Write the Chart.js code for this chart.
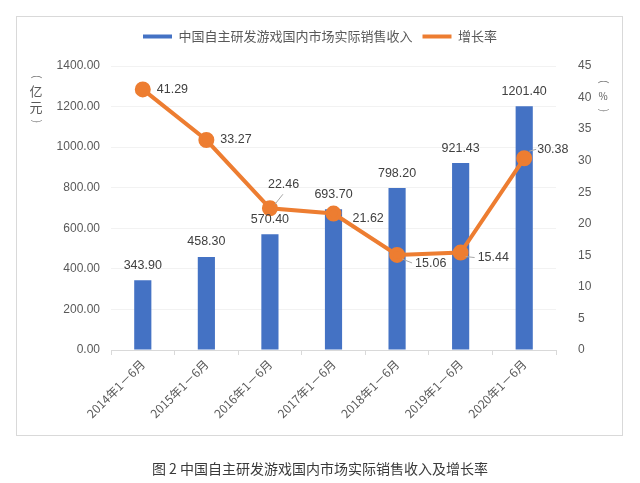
<!DOCTYPE html>
<html>
<head>
<meta charset="utf-8">
<script src="https://cdn.jsdelivr.net/npm/chart.js@4.4.1/dist/chart.umd.min.js"></script>
<style>
  body { margin: 0; background: #fff; font-family: "Noto Sans CJK SC", sans-serif; }
  #wrap { position: relative; width: 640px; height: 483px; overflow: hidden; }
  #frame { position: absolute; left: 16px; top: 16px; width: 607px; height: 420px; border: 1px solid #d9d9d9; box-sizing: border-box; }
  canvas { position: absolute; left: 0; top: 0; }
  .unit { position: absolute; display: flex; flex-direction: column; align-items: center; font-size: 13px; color: #595959; line-height: 16px; width: 16px; }
  .unit .p { display: inline-block; transform: rotate(90deg); font-family: "DejaVu Sans", sans-serif; font-weight: 300; line-height: 12px; height: 12px; }
  #unitL { left: 28px; top: 71px; }
  #unitR { left: 595px; top: 76px; font-size: 10px; }
  #unitR .p { font-size: 13px; }
  #caption { position: absolute; left: 0; width: 640px; top: 458px; text-align: center; font-size: 14px; color: #3a3a3a; }
</style>
</head>
<body>
<div id="wrap">
  <div id="frame"></div>
  <canvas id="myChart" width="640" height="483"></canvas>
  <div class="unit" id="unitL"><span class="p">(</span><span>亿</span><span>元</span><span class="p">)</span></div>
  <div class="unit" id="unitR"><span class="p">(</span><span>%</span><span class="p">)</span></div>
  <div id="caption">图 2 中国自主研发游戏国内市场实际销售收入及增长率</div>
</div>
<script>
// data
const categories = ['2014年1－6月', '2015年1－6月', '2016年1－6月', '2017年1－6月', '2018年1－6月', '2019年1－6月', '2020年1－6月'];
const revenue = [343.90, 458.30, 570.40, 693.70, 798.20, 921.43, 1201.40];
const growth = [41.29, 33.27, 22.46, 21.62, 15.06, 15.44, 30.38];
const revenueName = '中国自主研发游戏国内市场实际销售收入';
const growthName = '增长率';

const blue = '#4472C4';
const orange = '#ED7D31';
const grey = '#595959';

// label offsets for the rate line: [dx, dy, leader]
const rateLabelPos = [
    [14, 0, null],
    [14, 0, null],
    [-2, -24, [5, -4, 13, -14]],
    [19, 5, null],
    [18, 9, [5, 4, 15, 8]],
    [17, 5, [5, 4, 14, 5]],
    [13, -9, [5, -7, 12, -9]]
];

const valueLabels = {
    id: 'valueLabels',
    afterDatasetsDraw(chart) {
        const ctx = chart.ctx;
        ctx.save();
        ctx.font = '12.5px "Liberation Sans", Arial, sans-serif';
        ctx.fillStyle = '#404040';
        ctx.textBaseline = 'middle';

        ctx.textAlign = 'center';
        chart.getDatasetMeta(0).data.forEach((el, i) => {
            ctx.fillText(revenue[i].toFixed(2), el.x, el.y - 15);
        });

        ctx.textAlign = 'left';
        ctx.strokeStyle = '#a6a6a6';
        ctx.lineWidth = 1;
        chart.getDatasetMeta(1).data.forEach((el, i) => {
            const p = rateLabelPos[i];
            if (p[2]) {
                ctx.beginPath();
                ctx.moveTo(el.x + p[2][0], el.y + p[2][1]);
                ctx.lineTo(el.x + p[2][2], el.y + p[2][3]);
                ctx.stroke();
            }
            ctx.fillText(growth[i].toFixed(2), el.x + p[0], el.y + p[1]);
        });
        ctx.restore();
    }
};

// extra room between legend and plot
const legendGap = {
    id: 'legendGap',
    beforeLayout(chart) {
        const lg = chart.legend;
        if (lg && !lg._gapPatched) {
            const fit = lg.fit.bind(lg);
            lg.fit = function () {
                fit();
                this.height += 13;
            };
            lg._gapPatched = true;
        }
    }
};

const ctx = document.getElementById('myChart').getContext('2d');

const chart = new Chart(ctx, {
    type: 'bar',
    data: {
        labels: categories,
        datasets: [{
            type: 'bar',
            label: revenueName,
            data: revenue,
            backgroundColor: blue,
            barPercentage: 0.54,
            categoryPercentage: 0.5,
            yAxisID: 'y',
            order: 1
        }, {
            type: 'line',
            label: growthName,
            data: growth,
            borderColor: orange,
            backgroundColor: orange,
            borderWidth: 4,
            pointRadius: 6,
            pointBackgroundColor: orange,
            pointBorderColor: orange,
            tension: 0,
            yAxisID: 'y1',
            order: 0
        }]
    },
    options: {
        responsive: false,
        animation: false,
        devicePixelRatio: 1,
        layout: { padding: { top: 20, left: 0, right: 0, bottom: 63 } },
        plugins: {
            tooltip: { enabled: false },
            legend: {
                position: 'top',
                labels: {
                    color: grey,
                    font: { family: '"Noto Sans CJK SC", sans-serif', size: 13 },
                    boxWidth: 29,
                    boxHeight: 4,
                    padding: 10,
                    generateLabels(chart) {
                        return chart.data.datasets.map((ds, i) => ({
                            text: ds.label,
                            fillStyle: i === 0 ? blue : orange,
                            strokeStyle: i === 0 ? blue : orange,
                            lineWidth: 0,
                            fontColor: grey,
                            datasetIndex: i
                        }));
                    }
                }
            }
        },
        scales: {
            x: {
                grid: { display: true, drawOnChartArea: false, color: '#d9d9d9', tickLength: 5, offset: true },
                border: { display: true, color: '#d9d9d9' },
                ticks: {
                    color: grey,
                    font: { family: '"Noto Sans CJK SC", sans-serif', size: 12 },
                    maxRotation: 45,
                    minRotation: 45,
                    padding: 2
                },
                afterFit(scale) { scale.height = 70; }
            },
            y: {
                position: 'left',
                min: 0,
                max: 1400,
                ticks: {
                    stepSize: 200,
                    color: grey,
                    font: { family: '"Liberation Sans", Arial, sans-serif', size: 12 },
                    padding: 11,
                    callback: v => v.toFixed(2)
                },
                grid: { color: '#f2f2f2', drawTicks: false },
                border: { display: false },
                afterFit(scale) { scale.width = 111; }
            },
            y1: {
                position: 'right',
                min: 0,
                max: 45,
                ticks: {
                    stepSize: 5,
                    color: grey,
                    font: { family: '"Liberation Sans", Arial, sans-serif', size: 12 },
                    padding: 22
                },
                grid: { drawOnChartArea: false, drawTicks: false },
                border: { display: false },
                afterFit(scale) { scale.width = 84; }
            }
        }
    },
    plugins: [legendGap, valueLabels]
});
</script>
</body>
</html>
